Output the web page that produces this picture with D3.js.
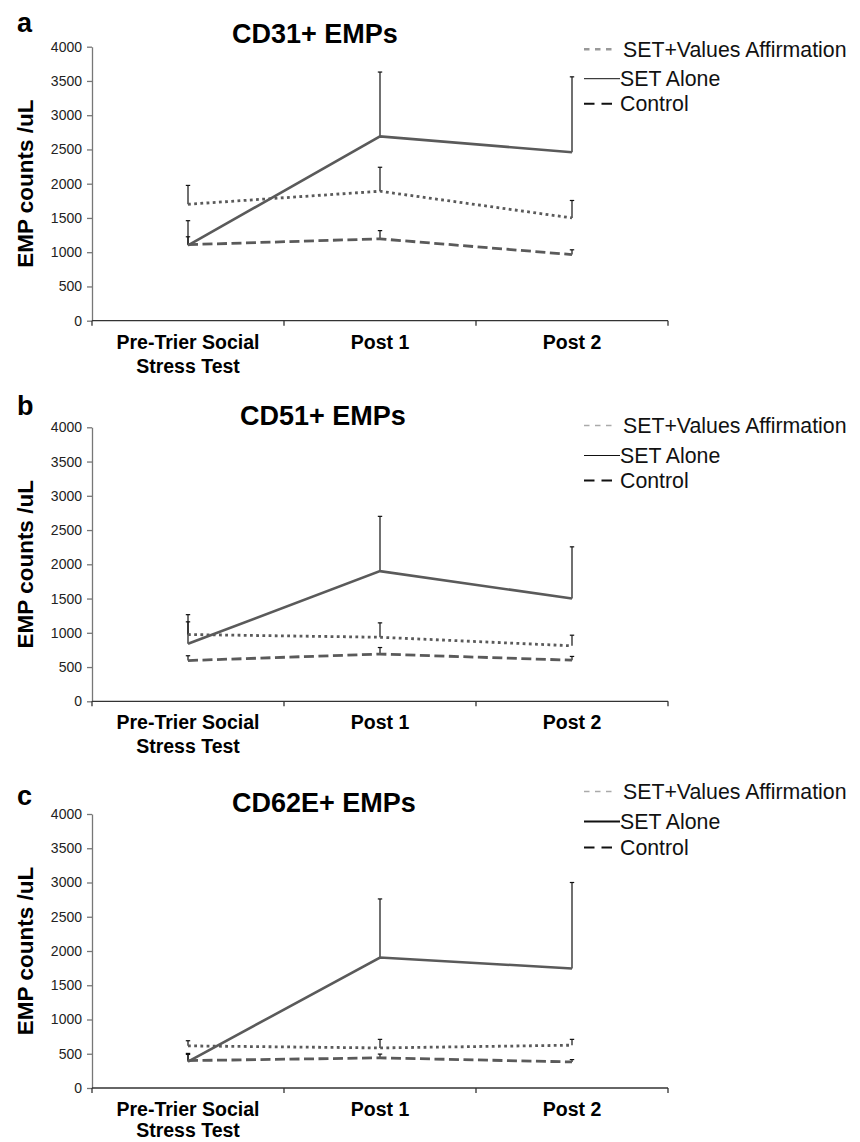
<!DOCTYPE html>
<html>
<head>
<meta charset="utf-8">
<script src="https://cdn.jsdelivr.net/npm/d3@7"></script>
<style>
    body { margin: 0; background: #fff; }
    svg { font-family: Arial, "Liberation Sans", Helvetica, sans-serif; }
</style>
</head>
<body>
<div id="chart"></div>
<script>
// Categories (x axis), each label split over lines
const categories = ['Pre', 'Post 1', 'Post 2']
const categoryLines = [['Pre-Trier Social', 'Stress Test'], ['Post 1'], ['Post 2']]
const yTicks = [0, 500, 1000, 1500, 2000, 2500, 3000, 3500, 4000]

const seriesNames = ['SET+Values Affirmation', 'SET Alone', 'Control']

// CD31+ EMPs (means, upper error bar ends)
const cd31Affirm = [1700, 1890, 1500]
const cd31AffirmErr = [1975, 2240, 1755]
const cd31Alone = [1100, 2690, 2460]
const cd31AloneErr = [1460, 3630, 3560]
const cd31Control = [1110, 1195, 965]
const cd31ControlErr = [1225, 1315, 1035]

// CD51+ EMPs
const cd51Affirm = [975, 935, 810]
const cd51AffirmErr = [1160, 1145, 965]
const cd51Alone = [840, 1900, 1500]
const cd51AloneErr = [1265, 2700, 2255]
const cd51Control = [595, 690, 600]
const cd51ControlErr = [665, 785, 655]

// CD62E+ EMPs
const cd62Affirm = [615, 585, 625]
const cd62AffirmErr = [690, 710, 710]
const cd62Alone = [385, 1905, 1745]
const cd62AloneErr = [490, 2760, 3000]
const cd62Control = [400, 440, 380]
const cd62ControlErr = [505, 495, 415]

const panels = [
    { letter: 'a', title: 'CD31+ EMPs', series: [[cd31Affirm, cd31AffirmErr], [cd31Alone, cd31AloneErr], [cd31Control, cd31ControlErr]] },
    { letter: 'b', title: 'CD51+ EMPs', series: [[cd51Affirm, cd51AffirmErr], [cd51Alone, cd51AloneErr], [cd51Control, cd51ControlErr]] },
    { letter: 'c', title: 'CD62E+ EMPs', series: [[cd62Affirm, cd62AffirmErr], [cd62Alone, cd62AloneErr], [cd62Control, cd62ControlErr]] }
]

// Layout per panel (top = y of the 4000 gridline)
const layout = [
    { top: 46.7, titleX: 232, titleDy: -3.5, letterDy: -14.5, legendDy: [10, 39.5, 64.5], legendStyle: 0, labelGap: 24 },
    { top: 427.3, titleX: 240, titleDy: -2.3, letterDy: -12.3, legendDy: [5.7, 35.7, 60.7], legendStyle: 1, labelGap: 24 },
    { top: 814, titleX: 232, titleDy: -2, letterDy: -9, legendDy: [-15, 15, 41], legendStyle: 2, labelGap: 21 }
]

const plotH = 274
const left = 92
const right = 668
const lineColor = '#5a5a5a'
const lineStyles = [
    { dash: '2.8,3.4', width: 2.8 },
    { dash: null, width: 2.6 },
    { dash: '10,4.5', width: 2.8 }
]

const svg = d3.select('#chart')
    .append('svg')
    .attr('width', 860)
    .attr('height', 1142)

const x = d3.scaleBand()
    .domain(categories)
    .range([left, right])

panels.forEach((p, i) => {
    const L = layout[i]
    const y = d3.scaleLinear()
        .domain([0, 4000])
        .range([L.top + plotH, L.top])

    const g = svg.append('g')

    // panel letter and title
    g.append('text')
        .attr('x', 17)
        .attr('y', L.top + L.letterDy)
        .attr('font-size', 27)
        .attr('font-weight', 'bold')
        .text(p.letter)
    g.append('text')
        .attr('x', L.titleX)
        .attr('y', L.top + L.titleDy)
        .attr('font-size', 27)
        .attr('font-weight', 'bold')
        .text(p.title)

    // y axis
    const yAxis = g.append('g')
        .attr('transform', `translate(${left},0)`)
        .call(d3.axisLeft(y).tickValues(yTicks).tickFormat(d3.format('d'))
            .tickSize(5).tickPadding(5).tickSizeOuter(0))
    yAxis.select('.domain').attr('stroke', '#777').attr('stroke-width', 1.3)
    yAxis.selectAll('.tick line').attr('stroke', '#777').attr('stroke-width', 1.3)
    yAxis.selectAll('.tick text')
        .attr('font-size', 14)
        .attr('font-family', 'Arial, "Liberation Sans", sans-serif')
        .attr('fill', '#222')

    g.append('text')
        .attr('transform', `translate(33,${L.top + plotH / 2}) rotate(-90)`)
        .attr('text-anchor', 'middle')
        .attr('font-size', 22.5)
        .attr('font-weight', 'bold')
        .text('EMP counts /uL')

    // x axis: baseline, boundary ticks, labels
    const base = y(0)
    g.append('line')
        .attr('x1', left).attr('x2', right)
        .attr('y1', base).attr('y2', base)
        .attr('stroke', '#333').attr('stroke-width', 1.3)
    const edges = categories.map(c => x(c)).concat([right])
    g.selectAll('.xtick')
        .data(edges)
        .enter()
        .append('line')
        .attr('x1', d => d).attr('x2', d => d)
        .attr('y1', base).attr('y2', base + 5)
        .attr('stroke', '#333').attr('stroke-width', 1.3)
    categories.forEach((c, ci) => {
        const t = g.append('text')
            .attr('text-anchor', 'middle')
            .attr('font-size', 19.5)
            .attr('font-weight', 'bold')
        categoryLines[ci].forEach((ln, li) => {
            t.append('tspan')
                .attr('x', x(c) + x.bandwidth() / 2)
                .attr('y', base + 28 + li * L.labelGap)
                .text(ln)
        })
    })

    const cx = c => x(c) + x.bandwidth() / 2
    const line = d3.line()
        .x((d, k) => cx(categories[k]))
        .y(d => y(d))

    // error bars (upper only)
    p.series.forEach(([vals, errs]) => {
        vals.forEach((v, k) => {
            const px = cx(categories[k])
            g.append('line')
                .attr('x1', px).attr('x2', px)
                .attr('y1', y(v)).attr('y2', y(errs[k]))
                .attr('stroke', '#111').attr('stroke-width', 1.2)
            g.append('line')
                .attr('x1', px - 2.2).attr('x2', px + 2.2)
                .attr('y1', y(errs[k])).attr('y2', y(errs[k]))
                .attr('stroke', '#111').attr('stroke-width', 1.2)
        })
    })

    // series lines
    p.series.forEach(([vals], si) => {
        g.append('path')
            .datum(vals)
            .attr('d', line)
            .attr('fill', 'none')
            .attr('stroke', lineColor)
            .attr('stroke-width', lineStyles[si].width)
            .attr('stroke-dasharray', lineStyles[si].dash)
    })

    // legend
    const lx = 584
    const st = L.legendStyle
    const legendSamples = [
        { x2: 617, color: st === 0 ? '#999' : '#aaa', width: st === 0 ? 2.6 : 1.5, dash: '5.5,5.5', tx: 623 },
        { x2: 620, color: '#111', width: st === 2 ? 2 : 1, dash: null, tx: 620 },
        { x2: 614, color: '#111', width: 2, dash: '10.5,7', tx: 620 }
    ]
    seriesNames.forEach((name, si) => {
        const ly = L.top + L.legendDy[si]
        const s = legendSamples[si]
        g.append('line')
            .attr('x1', lx).attr('x2', s.x2)
            .attr('y1', ly - 7.5).attr('y2', ly - 7.5)
            .attr('stroke', s.color)
            .attr('stroke-width', s.width)
            .attr('stroke-dasharray', s.dash)
        g.append('text')
            .attr('x', s.tx)
            .attr('y', ly)
            .attr('font-size', 21.3)
            .attr('fill', '#111')
            .text(name)
    })
})
</script>
</body>
</html>
